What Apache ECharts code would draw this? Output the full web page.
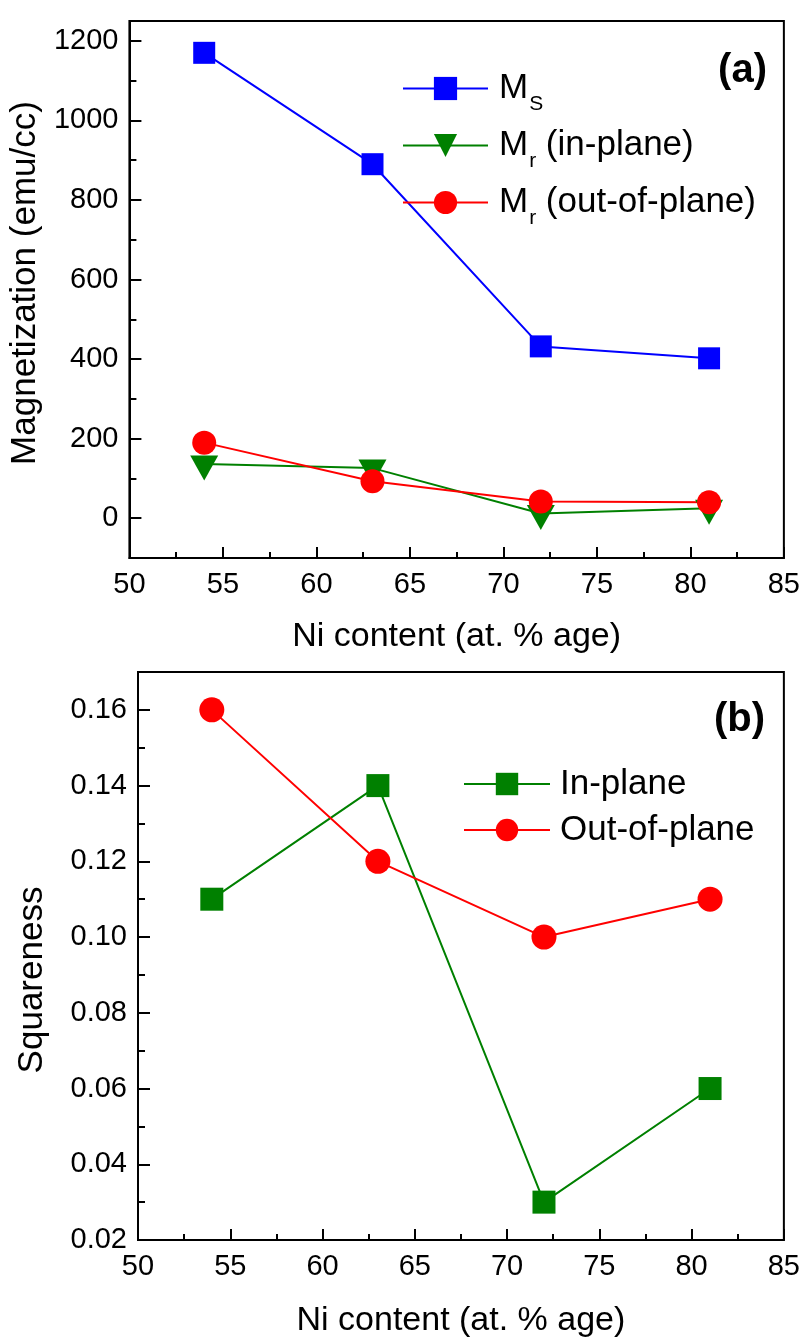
<!DOCTYPE html>
<html>
<head>
<meta charset="utf-8">
<script src="https://cdn.jsdelivr.net/npm/echarts@6/dist/echarts.min.js"></script>
<style>
  html, body { margin: 0; padding: 0; background: #ffffff; }
  #chart { width: 803px; height: 1341px; }
</style>
</head>
<body>
<div id="chart"></div>
<script>
// ---- data ----
const niContent = [54, 63, 72, 81];
const msValues = [1170, 890, 432, 402];
const mrInPlane = [136, 126, 12, 25];
const mrOutOfPlane = [190, 93, 42, 40];
const sqInPlane = [0.11, 0.14, 0.03, 0.06];
const sqOutOfPlane = [0.16, 0.12, 0.10, 0.11];

// ---- tick values / labels ----
const magMajorTicks = [0, 200, 400, 600, 800, 1000, 1200];
const magMinorTicks = [100, 300, 500, 700, 900, 1100];
const topSeriesNames = ['MS', 'Mr (in-plane)', 'Mr (out-of-plane)'];
const topLegendMain = ['M', 'M', 'M'];
const topLegendSub = ['S', 'r', 'r'];
const topLegendRest = ['', ' (in-plane)', ' (out-of-plane)'];
const bottomSeriesNames = ['In-plane', 'Out-of-plane'];
const panelLabels = ['(a)', '(b)'];
const xAxisTitle = 'Ni content (at. % age)';
const yAxisTitles = ['Magnetization (emu/cc)', 'Squareness'];

const FONT = '"Liberation Sans", Arial, Helvetica, sans-serif';
const BLUE = '#0000ff', GREEN = '#008000', RED = '#ff0000';

const pairs = (ys) => niContent.map((x, i) => [x, ys[i]]);

const chart = echarts.init(document.getElementById('chart'), null, { renderer: 'canvas' });

function xAxisFor(gridIndex, nameGap) {
  return {
    type: 'value', gridIndex, min: 50, max: 85, interval: 5,
    axisLine: { show: true, onZero: false, lineStyle: { color: '#000', width: 2 } },
    axisTick: { show: true, inside: true, length: 11, lineStyle: { color: '#000', width: 2 } },
    minorTick: { show: true, splitNumber: 2, length: 6, lineStyle: { color: '#000', width: 2 } },
    splitLine: { show: false },
    axisLabel: { color: '#000', fontFamily: FONT, fontSize: 29, margin: 12, showMinLabel: true, showMaxLabel: true },
    name: xAxisTitle, nameLocation: 'middle', nameGap,
    nameTextStyle: { color: '#000', fontFamily: FONT, fontSize: 34 }
  };
}

const topLegendFormatter = (name) => {
  const i = topSeriesNames.indexOf(name);
  let s = '{m|' + topLegendMain[i] + '}{s|' + topLegendSub[i] + '}';
  if (topLegendRest[i]) s += '{m|' + topLegendRest[i] + '}';
  return s;
};

const option = {
  animation: false,
  backgroundColor: '#ffffff',
  grid: [
    { left: 129, top: 21, width: 655, height: 537, show: true, borderColor: '#000', borderWidth: 2, backgroundColor: 'transparent' },
    { left: 138, top: 672, width: 646, height: 568, show: true, borderColor: '#000', borderWidth: 2, backgroundColor: 'transparent' }
  ],
  xAxis: [
    xAxisFor(0, 62),
    xAxisFor(1, 64)
  ],
  yAxis: [
    {
      type: 'value', gridIndex: 0, min: -100, max: 1250,
      axisLine: { show: true, onZero: false, lineStyle: { color: '#000', width: 2 } },
      axisTick: { show: true, inside: true, length: 12, customValues: magMajorTicks, lineStyle: { color: '#000', width: 2 } },
      axisLabel: { color: '#000', fontFamily: FONT, fontSize: 29, margin: 11, customValues: magMajorTicks, formatter: (v) => String(v) },
      splitLine: { show: false },
      name: yAxisTitles[0], nameLocation: 'middle', nameGap: 77,
      nameTextStyle: { color: '#000', fontFamily: FONT, fontSize: 35, padding: [0, 0, 0, 13] }
    },
    {
      // minor ticks of the magnetization axis
      type: 'value', gridIndex: 0, min: -100, max: 1250, position: 'left',
      axisLine: { show: false },
      axisTick: { show: true, inside: true, length: 7, customValues: magMinorTicks, lineStyle: { color: '#000', width: 2 } },
      axisLabel: { show: false },
      splitLine: { show: false }
    },
    {
      type: 'value', gridIndex: 1, min: 0.02, max: 0.17, interval: 0.02,
      axisLine: { show: true, onZero: false, lineStyle: { color: '#000', width: 2 } },
      axisTick: { show: true, inside: true, length: 12, lineStyle: { color: '#000', width: 2 } },
      minorTick: { show: true, splitNumber: 2, length: 7, lineStyle: { color: '#000', width: 2 } },
      axisLabel: { color: '#000', fontFamily: FONT, fontSize: 29, margin: 11, showMaxLabel: false, formatter: (v) => v.toFixed(2) },
      splitLine: { show: false },
      name: yAxisTitles[1], nameLocation: 'middle', nameGap: 88,
      nameTextStyle: { color: '#000', fontFamily: FONT, fontSize: 35, padding: [0, 48, 0, 0] }
    }
  ],
  legend: [
    {
      data: topSeriesNames, orient: 'vertical', left: 402, top: 62, padding: 0,
      itemWidth: 85, itemHeight: 29, itemGap: 4, selectedMode: false,
      formatter: topLegendFormatter,
      textStyle: {
        padding: [0, 0, 0, 6],
        rich: {
          m: { fontFamily: FONT, fontSize: 35, color: '#000', lineHeight: 40 },
          s: { fontFamily: FONT, fontSize: 21, color: '#000', lineHeight: 21, padding: [32, 0, 0, 1] }
        }
      }
    },
    {
      data: bottomSeriesNames, orient: 'vertical', left: 463, top: 766, padding: 0,
      itemWidth: 86, itemHeight: 28, itemGap: 10, selectedMode: false,
      textStyle: { fontFamily: FONT, fontSize: 35, color: '#000', lineHeight: 36, padding: [0, 0, 0, 5] }
    }
  ],
  graphic: [
    { type: 'text', x: 767, y: 71, style: { text: panelLabels[0], font: 'bold 40px ' + FONT, fill: '#000', align: 'right', verticalAlign: 'middle' } },
    { type: 'text', x: 765, y: 720, style: { text: panelLabels[1], font: 'bold 40px ' + FONT, fill: '#000', align: 'right', verticalAlign: 'middle' } }
  ],
  series: [
    {
      name: topSeriesNames[0], type: 'line', xAxisIndex: 0, yAxisIndex: 0,
      data: pairs(msValues), symbol: 'rect', symbolSize: 22,
      lineStyle: { color: BLUE, width: 2 }, itemStyle: { color: BLUE }
    },
    {
      name: topSeriesNames[1], type: 'line', xAxisIndex: 0, yAxisIndex: 0,
      data: pairs(mrInPlane), symbol: 'triangle', symbolRotate: 180, symbolSize: [28, 25], symbolOffset: [0, 4],
      lineStyle: { color: GREEN, width: 2 }, itemStyle: { color: GREEN }
    },
    {
      name: topSeriesNames[2], type: 'line', xAxisIndex: 0, yAxisIndex: 0,
      data: pairs(mrOutOfPlane), symbol: 'circle', symbolSize: 24,
      lineStyle: { color: RED, width: 2 }, itemStyle: { color: RED }
    },
    {
      name: bottomSeriesNames[0], type: 'line', xAxisIndex: 1, yAxisIndex: 2,
      data: pairs(sqInPlane), symbol: 'rect', symbolSize: 23,
      lineStyle: { color: GREEN, width: 2 }, itemStyle: { color: GREEN }
    },
    {
      name: bottomSeriesNames[1], type: 'line', xAxisIndex: 1, yAxisIndex: 2,
      data: pairs(sqOutOfPlane), symbol: 'circle', symbolSize: 25,
      lineStyle: { color: RED, width: 2 }, itemStyle: { color: RED }
    }
  ]
};

chart.setOption(option);
</script>
</body>
</html>
